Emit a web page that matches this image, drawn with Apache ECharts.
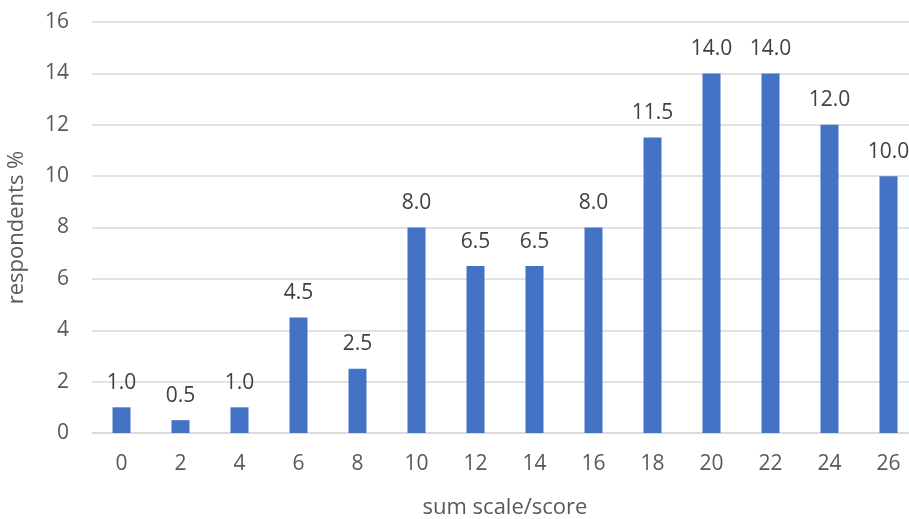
<!DOCTYPE html>
<html><head><meta charset="utf-8">
<script src="https://cdn.jsdelivr.net/npm/echarts@6/dist/echarts.min.js"></script>
<style>html,body{margin:0;padding:0;background:#fff}#c{width:909px;height:519px}</style>
</head><body><div id="c"></div>
<script>
const categories = ['0','2','4','6','8','10','12','14','16','18','20','22','24','26'];
const values = [1.0,0.5,1.0,4.5,2.5,8.0,6.5,6.5,8.0,11.5,14.0,14.0,12.0,10.0];
const chart = echarts.init(document.getElementById('c'), null, {renderer:'canvas'});
const font = '"Open Sans", "Liberation Sans", sans-serif';
chart.setOption({
  animation:false,
  textStyle:{fontFamily:font},
  grid:{left:92, top:22, bottom:86, width:826, containLabel:false, outerBoundsMode:'none'},
  xAxis:{type:'category', data:categories,
    name:'sum scale/score', nameLocation:'middle', nameGap:64,
    nameTextStyle:{fontSize:22, color:'#595959', fontFamily:font},
    axisLine:{lineStyle:{color:'#d9d9d9', width:1.5}},
    axisTick:{show:false},
    axisLabel:{fontSize:21, color:'#595959', margin:21, fontFamily:font}},
  yAxis:{type:'value', min:0, max:16, interval:2,
    name:'respondents %', nameLocation:'middle', nameGap:64,
    nameTextStyle:{fontSize:22, color:'#595959', fontFamily:font},
    splitLine:{lineStyle:{color:'#d9d9d9', width:1.5}},
    axisLabel:{fontSize:21, color:'#595959', margin:23, fontFamily:font}},
  series:[{type:'bar', data:values, barWidth:18,
    itemStyle:{color:'#4472c4'},
    label:{show:true, position:'top', distance:14, fontSize:21, color:'#404040', fontFamily:font,
      formatter:p=>p.value.toFixed(1)}}]
});
</script></body></html>
